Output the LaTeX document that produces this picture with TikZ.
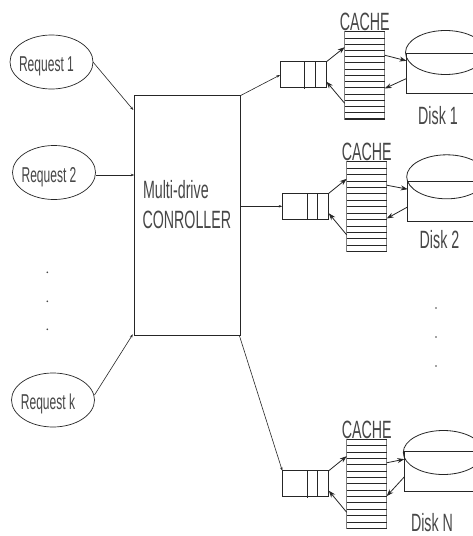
\documentclass[tikz,border=0pt]{standalone}
\usepackage{fontspec}
\setmainfont[FakeStretch=0.57]{Liberation Sans}
\newfontfamily\reqfont[FakeStretch=0.56]{Liberation Sans}
\usetikzlibrary{shapes.geometric,arrows.meta,calc}
\definecolor{ink}{gray}{0.15}
\definecolor{txt}{gray}{0.28}
\tikzset{
  conn/.style={draw=ink,line width=0.6pt,-{Stealth[length=3.5pt,width=2.5pt]}},
  cacheconn/.style={draw=ink,line width=0.8pt,-{Stealth[length=7pt,width=5pt]}},
  reqnode/.style={ellipse,draw=ink,line width=0.7pt,minimum width=83pt,minimum height=54pt,inner sep=0pt,outer sep=0pt,
    font=\reqfont\fontsize{21.5}{21.5}\selectfont,text=txt,text height=19.4pt,text depth=0pt},
  ctrlnode/.style={rectangle,draw=ink,line width=0.9pt,inner sep=0pt,outer sep=0pt,anchor=north west},
  bigtext/.style={inner sep=0pt,outer sep=0pt,anchor=base,text=txt,font=\fontsize{25}{25}\selectfont},
  queuenode/.style={rectangle,draw=ink,line width=0.8pt,minimum width=46.5pt,minimum height=26pt,inner sep=0pt,outer sep=0pt,anchor=north west},
  cachenode/.style={rectangle,draw=gray,line width=0.5pt,minimum width=40pt,inner sep=0pt,outer sep=0pt,anchor=north west},
  platter/.style={ellipse,draw=ink,line width=0.8pt,minimum width=80pt,minimum height=44pt,inner sep=0pt,outer sep=0pt},
  diskline/.style={draw=ink,line width=0.9pt},
  dotmark/.style={circle,fill=txt,minimum size=1.8pt,inner sep=0pt,outer sep=0pt},
}
% #1 id, #2 qx, #3 qy, #4 cache x, #5 cache top, #6 cache height, #7 platter left, #8 platter top, #9 platter line y
\newcommand{\drivegroup}[9]{%
  \node[queuenode] (q#1) at (#2,#3) {};
  \draw[ink,line width=0.5pt] ($(q#1.north west)+(24.5,0)$) -- ++(0,27);
  \draw[ink,line width=0.5pt] ($(q#1.north west)+(35,0)$) -- ++(0,26);
  \node[cachenode,minimum height=#6pt] (c#1) at (#4,#5) {};
  \foreach \k in {0,...,14} {
    \draw[ink,line width=0.8pt] ($(c#1.north west)!\k/14!(c#1.south west)$) -- ($(c#1.north east)!\k/14!(c#1.south east)$);
  }
  \draw[ink,line width=1.3pt] (c#1.south west) -- (c#1.south east);
  \node[bigtext] (ct#1) at ($(c#1.north)+(0,-0.8)$) {CACHE};
  \node[platter,anchor=west] (d#1) at (#7,#8+21.8) {};
  \coordinate (dl#1) at (#7+1,#9);
  \coordinate (dr#1) at (473,#9);
  \coordinate (db#1) at (#7+1,#9+40);
  \coordinate (de#1) at (473,#9+40);
  \draw[diskline] (dr#1) -- (dl#1) -- (db#1) -- (de#1);
  \draw[cacheconn] (q#1.north east) -- ($(c#1.west |- q#1.north east)+(0,-14.5)$);
  \draw[cacheconn] ($(c#1.west |- q#1.south east)+(0,15.6)$) -- ($(q#1.south east)+(0,-6)$);
  \draw[cacheconn] ($(c#1.north east)+(0,23.5)$) -- ($(dl#1)+(0,7.5)$);
  \draw[cacheconn] ($(dl#1)+(0,25.2)$) -- ($(c#1.north east)+(0,56.8)$);
}
\begin{document}
\begin{tikzpicture}[x=1pt,y=-1pt]
\useasboundingbox (0,0) rectangle (473,536);
\clip (0,0) rectangle (473,536);
\fill[white] (0,0) rectangle (473,536);

\node[reqnode] (r1) at (51.5,62) {\hspace*{-10pt}Request 1};
\node[reqnode] (r2) at (54,172.5) {\hspace*{-10pt}Request 2};
\node[reqnode] (rk) at (53,400) {\hspace*{-10pt}Request k};

\node[ctrlnode,minimum width=106pt,minimum height=239.6pt] (ctrl) at (134.3,95.7) {};
\node[bigtext,anchor=base west] (ct1) at (143,198) {Multi-drive};
\node[bigtext,anchor=base west] (ct2) at (142.5,228) {CONROLLER};

\drivegroup{1}{280}{61.7}{344.7}{31.7}{87.3}{405.5}{30.7}{53.3}
\drivegroup{2}{282.3}{193.3}{346.7}{161.7}{90}{406.7}{155}{181.7}
\drivegroup{n}{282.3}{470.7}{346.7}{439.3}{89}{403.3}{430.7}{451.7}

\node[bigtext] (l1) at (438,124) {Disk 1};
\node[bigtext] (l2) at (439.5,248) {Disk 2};
\node[bigtext] (ln) at (432,531.5) {Disk N};

\draw[conn] (r1.east) -- ($(ctrl.north west)+(-1,14.3)$);
\draw[conn] (r2.east |- 0,175) -- (ctrl.west |- 0,175);
\draw[conn] ($(rk.east)+(0,-5)$) -- ($(ctrl.south west)+(-1.5,-1)$);
\draw[conn] (ctrl.north east) -- ($(q1.north west)+(0,13.3)$);
\draw[conn] (ctrl.east |- q2.west) -- (q2.west);
\draw[conn] ($(ctrl.south east)+(-1,0)$) -- (qn.north west);

\node[dotmark] (a1) at (47.3,272.3) {};
\node[dotmark] (a2) at (47.3,301.3) {};
\node[dotmark] (a3) at (47.3,329.3) {};
\node[dotmark] (b1) at (436,308) {};
\node[dotmark] (b2) at (436,337) {};
\node[dotmark] (b3) at (436,366) {};
\end{tikzpicture}
\end{document}
